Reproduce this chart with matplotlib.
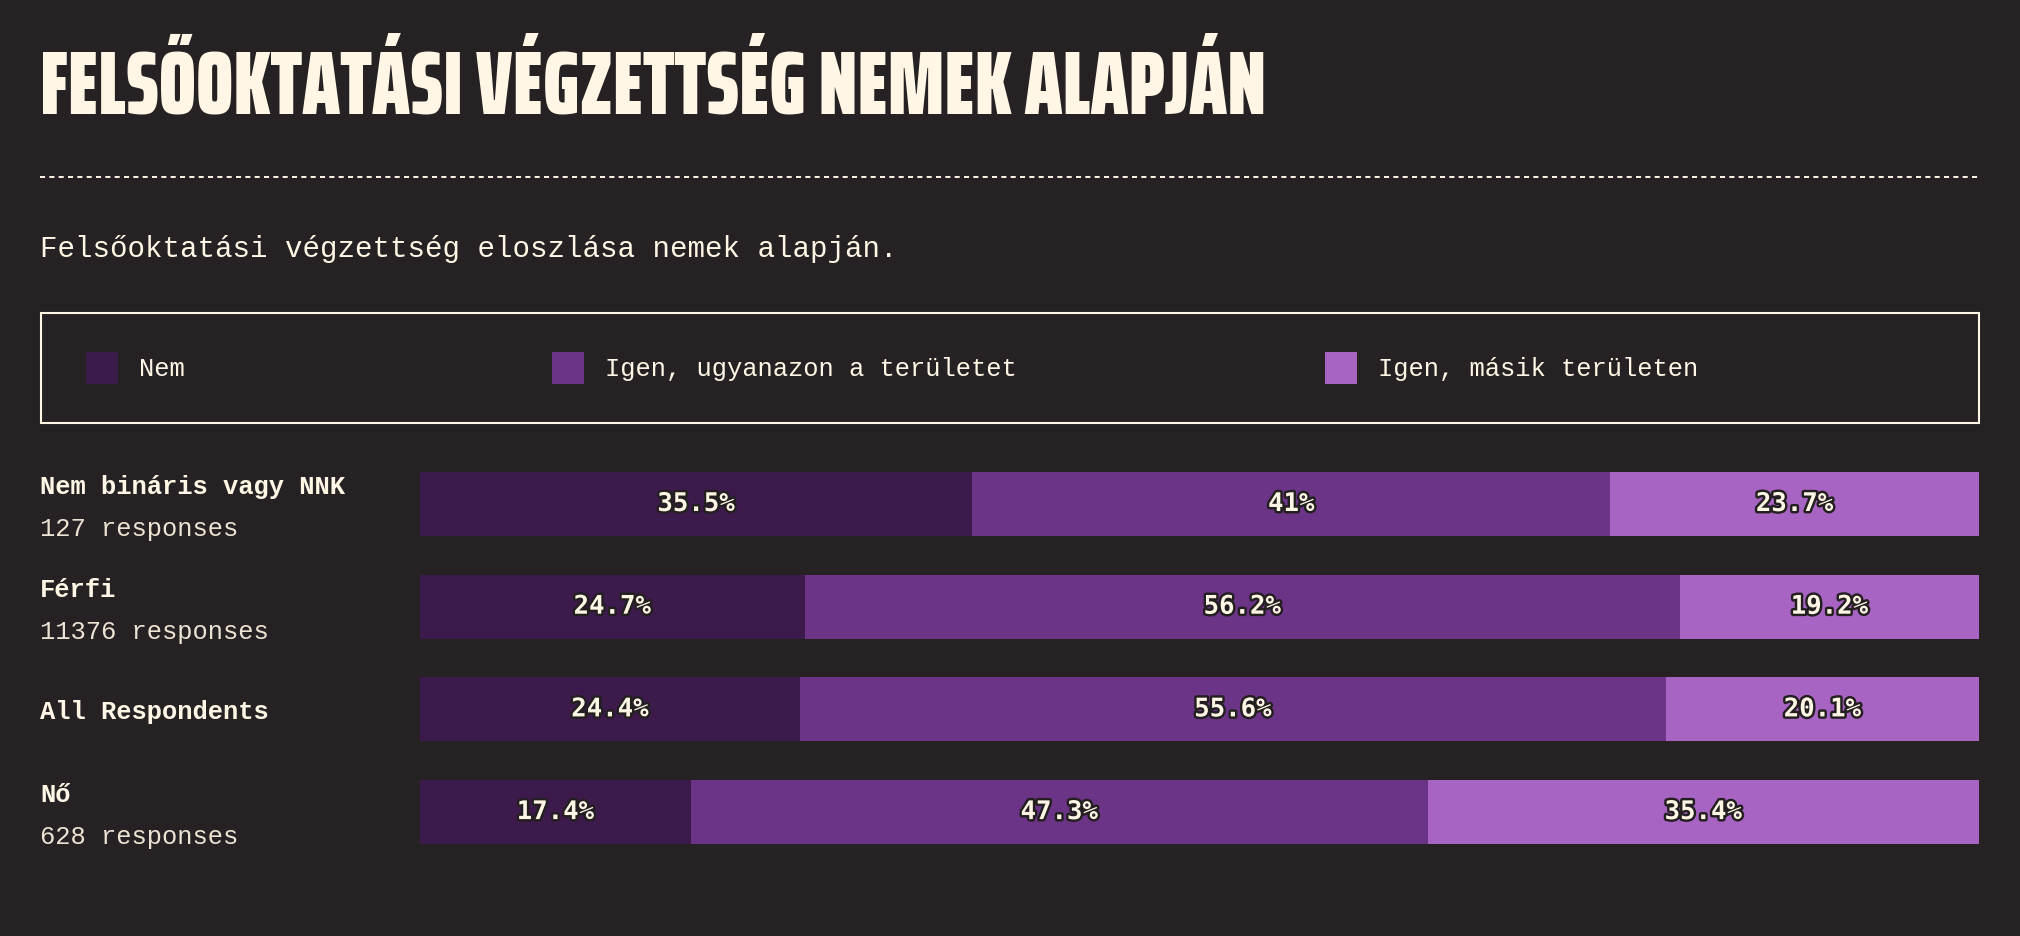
import os
import math
import matplotlib
matplotlib.use("Agg")
import matplotlib.pyplot as plt
from matplotlib import font_manager, patheffects, transforms
from matplotlib.font_manager import FontProperties
from matplotlib.patches import Rectangle
from matplotlib.lines import Line2D
from matplotlib.textpath import TextPath

# ---------------- data ----------------
title = "FELSŐOKTATÁSI VÉGZETTSÉG NEMEK ALAPJÁN"
subtitle = "Felsőoktatási végzettség eloszlása nemek alapján."
categories = ["Nem bináris vagy NNK", "Férfi", "All Respondents", "Nő"]
responses = ["127 responses", "11376 responses", "", "628 responses"]
series_names = ["Nem", "Igen, ugyanazon a területet", "Igen, másik területen"]
nem = [35.5, 24.7, 24.4, 17.4]
igen_ugyanazon = [41.0, 56.2, 55.6, 47.3]
igen_masik = [23.7, 19.2, 20.1, 35.4]
series_values = [nem, igen_ugyanazon, igen_masik]
series_colors = ["#3d1a4c", "#6c3486", "#a764c3"]

# ---------------- style ----------------
W, H, DPI = 2020, 936, 100
BG = "#262223"
CREAM = "#fff6e6"
CREAM_DIM = "#ece3d3"
MONO = ["Liberation Mono", "DejaVu Sans Mono"]
MONO_BOLD_LABEL = "DejaVu Sans Mono"


def fx(px):
    return px / W


def fy(py):
    return 1 - py / H


TITLE_W = 1229      # px width of title in reference
TITLE_CAP = 60      # px cap height in reference


def pick_title_font():
    """Pick the installed heavy condensed face whose proportions best fit."""
    target = TITLE_W / TITLE_CAP
    best, best_score = None, None
    for f in font_manager.fontManager.ttflist:
        base = os.path.basename(f.fname).lower()
        if not (("condensed" in base or "narrow" in base) and
                ("bold" in base or "black" in base or "heavy" in base)):
            continue
        if "italic" in base or "oblique" in base:
            continue
        try:
            fp = FontProperties(fname=f.fname, size=100)
            w = TextPath((0, 0), title, prop=fp).get_extents().width
            h = TextPath((0, 0), "E", prop=fp).get_extents().height
        except Exception:
            continue
        score = abs(math.log((w / h) / target))
        if "black" in base or "extrabold" in base or "heavy" in base:
            score -= 0.05
        if best_score is None or score < best_score:
            best, best_score = f.fname, score
    if best:
        return FontProperties(fname=best)
    return FontProperties(family="DejaVu Sans", weight="bold")


fig = plt.figure(figsize=(W / DPI, H / DPI), dpi=DPI, facecolor=BG)

# ---- title (fit to reference width) ----
tfp = pick_title_font()
tfp.set_size(60)
t = fig.text(fx(40), fy(114), title, fontproperties=tfp, color=CREAM,
             va="baseline", ha="left")
fig.canvas.draw()
r = fig.canvas.get_renderer()
bb = t.get_window_extent(renderer=r)
if bb.width > 0:
    t.set_fontsize(60 * TITLE_W / bb.width)

# ---- dashed separator ----
fig.add_artist(Line2D([fx(40), fx(1979)], [fy(177), fy(177)], color=CREAM,
                      lw=1.4, dashes=(2.6, 2.2), transform=fig.transFigure))

# ---- subtitle ----
fig.text(fx(40), fy(257), subtitle, family=MONO, fontsize=21, color=CREAM,
         va="baseline", ha="left")

# ---- legend box ----
fig.add_artist(Rectangle((fx(41), fy(423)), fx(1979) - fx(41), fy(313) - fy(423),
                         transform=fig.transFigure, fill=False,
                         edgecolor=CREAM, lw=1.5))
legend_square_x = [86, 552, 1325]
legend_text_x = [139, 605, 1378]
for name, col, sx, tx in zip(series_names, series_colors, legend_square_x, legend_text_x):
    fig.add_artist(Rectangle((fx(sx), fy(384)), 32 / W, 32 / H,
                             transform=fig.transFigure, facecolor=col, edgecolor="none"))
    fig.text(fx(tx), fy(376), name, family=MONO, fontsize=18.4, color=CREAM,
             va="baseline", ha="left")

# ---- bars ----
row_pitch = 102.7
ax_top = 504 - row_pitch / 2
ax_h = row_pitch * 4
ax = fig.add_axes([fx(420), fy(ax_top + ax_h), 1559 / W, ax_h / H])
ax.set_facecolor(BG)
ax.set_xlim(0, 100)
ax.set_ylim(len(categories) - 0.5, -0.5)
ax.axis("off")

ypos = list(range(len(categories)))
totals = [sum(v[i] for v in series_values) for i in ypos]
left = [0.0] * len(categories)
bar_h = 64 / row_pitch
stroke = [patheffects.withStroke(linewidth=3.5, foreground="#231f20")]
for vals, col in zip(series_values, series_colors):
    widths = [v / tot * 100 for v, tot in zip(vals, totals)]
    ax.barh(ypos, widths, left=left, height=bar_h, color=col, edgecolor="none")
    for i, (w, v) in enumerate(zip(widths, vals)):
        ax.text(left[i] + w / 2, i, f"{v:g}%", family=MONO_BOLD_LABEL, weight="bold",
                fontsize=18.5, color=CREAM, ha="center", va="center",
                path_effects=stroke)
    left = [l + w for l, w in zip(left, widths)]

# ---- row labels ----
blend = transforms.blended_transform_factory(fig.transFigure, ax.transData)
for i, (cat, resp) in enumerate(zip(categories, responses)):
    if resp:
        tr_name = transforms.offset_copy(blend, fig=fig, x=0, y=10, units="dots")
        tr_resp = transforms.offset_copy(blend, fig=fig, x=0, y=-32, units="dots")
        ax.text(fx(40), i, cat, transform=tr_name, family=MONO, weight="bold",
                fontsize=18.4, color=CREAM, va="baseline", ha="left")
        ax.text(fx(40), i, resp, transform=tr_resp, family=MONO,
                fontsize=18.4, color=CREAM_DIM, va="baseline", ha="left")
    else:
        tr_name = transforms.offset_copy(blend, fig=fig, x=0, y=-10, units="dots")
        ax.text(fx(40), i, cat, transform=tr_name, family=MONO, weight="bold",
                fontsize=18.4, color=CREAM, va="baseline", ha="left")

fig.savefig("out.png", dpi=DPI, facecolor=BG)
